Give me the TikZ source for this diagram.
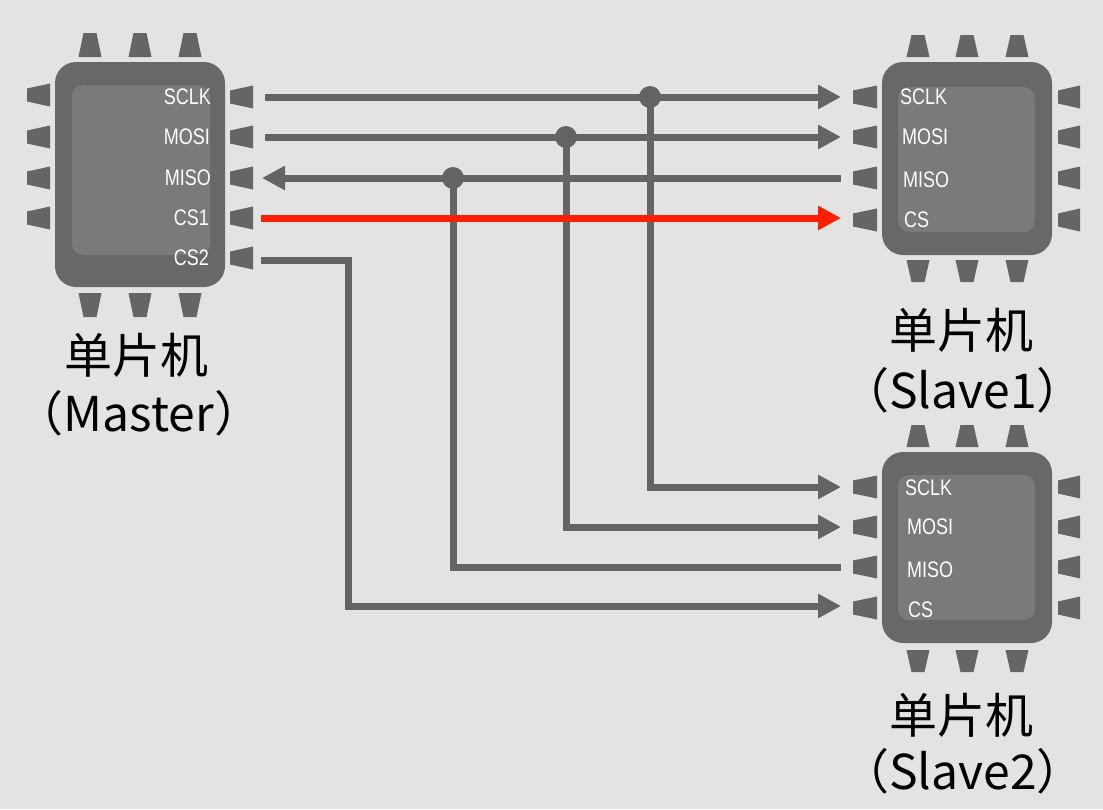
\documentclass[tikz,border=0pt]{standalone}
\usepackage{fontspec}
\usetikzlibrary{arrows.meta}
\newfontfamily\cjkfont{Noto Sans CJK SC}
\newfontfamily\pinfont[FakeStretch=0.8]{Liberation Sans}
\definecolor{bgcol}{HTML}{E3E3E3}
\definecolor{chipbody}{HTML}{686866}
\definecolor{chipinner}{HTML}{7A7A79}
\definecolor{pingray}{HTML}{656563}
\definecolor{wirecol}{HTML}{646462}
\definecolor{redwire}{HTML}{FF1E00}
% pins: narrow end first
\newcommand\mypinU[3]{\fill[pingray] ({#1-6.5},#2) -- ({#1+6.5},#2) -- ({#1+11.5},#3) -- ({#1-11.5},#3) -- cycle;}
\newcommand\mypinD[3]{\fill[pingray] ({#1-11.5},#2) -- ({#1+11.5},#2) -- ({#1+6.5},#3) -- ({#1-6.5},#3) -- cycle;}
\newcommand\mypinL[3]{\fill[pingray] (#2,{#1-6.5}) -- (#3,{#1-11.5}) -- (#3,{#1+11.5}) -- (#2,{#1+6.5}) -- cycle;}
\newcommand\mypinR[3]{\fill[pingray] (#2,{#1-11.5}) -- (#3,{#1-6.5}) -- (#3,{#1+6.5}) -- (#2,{#1+11.5}) -- cycle;}
\begin{document}
\begin{tikzpicture}[x=1pt,y=-1pt,
  wireline/.style={draw=wirecol,line width=7pt},
  redline/.style={draw=redwire,line width=7pt},
  tipend/.style={-{Triangle[length=23pt,width=23pt]}},
  tipstart/.style={{Triangle[length=23pt,width=23pt]}-},
  junction/.style={circle,fill=wirecol,minimum size=22pt,inner sep=0pt},
  pinlbl/.style={text=white,font=\pinfont\fontsize{22.5}{22.5}\selectfont,inner sep=0pt},
  biglbl/.style={text=black,font=\cjkfont\fontsize{48}{48}\selectfont,inner sep=0pt},
  bodyshape/.style={fill=chipbody,rounded corners=21pt},
  innershape/.style={fill=chipinner,rounded corners=11pt}
]
\fill[bgcol] (0,0) rectangle (1103,809);
\useasboundingbox (0,0) rectangle (1103,809);

% ---------- Master chip ----------
\fill[bodyshape] (55,62) rectangle (225,287);
\fill[innershape] (72,85) rectangle (210,255);
\foreach \px in {90,140,190} {\mypinU{\px}{33}{57} \mypinD{\px}{293}{317}}
\foreach \py in {95,137,178,218} {\mypinL{\py}{27}{50}}
\foreach \py in {97,137,178,218,258} {\mypinR{\py}{253}{230}}
\node[pinlbl,anchor=east] (mtsclk) at (211,97) {SCLK};
\node[pinlbl,anchor=east] (mtmosi) at (210,137) {MOSI};
\node[pinlbl,anchor=east] (mtmiso) at (211,178) {MISO};
\node[pinlbl,anchor=east] (mtcs1) at (209,218) {CS1};
\node[pinlbl,anchor=east] (mtcs2) at (209,258) {CS2};
\node[biglbl] (mname) at (136,355) {单片机};
\node[biglbl] (mrole) at (139,413) {（Master）};

% ---------- Slave1 chip ----------
\fill[bodyshape] (882,62) rectangle (1052,255);
\fill[innershape] (898,87) rectangle (1035,232);
\foreach \px in {918,967,1017} {\mypinU{\px}{35}{57} \mypinD{\px}{260}{282}}
\foreach \py in {97,137,178,220} {\mypinL{\py}{853}{877} \mypinR{\py}{1080}{1058}}
\node[pinlbl,anchor=west] (sasclk) at (900,97) {SCLK};
\node[pinlbl,anchor=west] (samosi) at (902,137) {MOSI};
\node[pinlbl,anchor=west] (samiso) at (903,180) {MISO};
\node[pinlbl,anchor=west] (sacs) at (904,220) {CS};
\node[biglbl] (saname) at (961,330) {单片机};
\node[biglbl] (sarole) at (963,390) {（Slave1）};

% ---------- Slave2 chip ----------
\fill[bodyshape] (882,452) rectangle (1052,643);
\fill[innershape] (898,475) rectangle (1035,620);
\foreach \px in {918,967,1017} {\mypinU{\px}{425}{447} \mypinD{\px}{650}{672}}
\foreach \py in {487,527,567,608} {\mypinL{\py}{853}{877} \mypinR{\py}{1080}{1058}}
\node[pinlbl,anchor=west] (sbsclk) at (905,488) {SCLK};
\node[pinlbl,anchor=west] (sbmosi) at (907,527) {MOSI};
\node[pinlbl,anchor=west] (sbmiso) at (907,570) {MISO};
\node[pinlbl,anchor=west] (sbcs) at (908,610) {CS};
\node[biglbl] (sbname) at (961,715) {单片机};
\node[biglbl] (sbrole) at (963,771) {（Slave2）};

% ---------- wire end points ----------
\coordinate (msclk) at (265,97);
\coordinate (mmosi) at (265,137);
\coordinate (mmiso) at (262,178);
\coordinate (mcs1) at (261,218);
\coordinate (mcs2) at (261,260);
\coordinate (asclk) at (841,97);
\coordinate (amosi) at (841,137);
\coordinate (amiso) at (841,178);
\coordinate (acs) at (841,218);
\coordinate (bsclk) at (841,487);
\coordinate (bmosi) at (841,527);
\coordinate (bmiso) at (841,567);
\coordinate (bcs) at (841,606);
\coordinate (jsclk) at (650,97);
\coordinate (jmosi) at (566,137);
\coordinate (jmiso) at (453,178);

% ---------- wires ----------
\draw[wireline,tipend] (msclk) -- (asclk);
\draw[wireline,tipend] (mmosi) -- (amosi);
\draw[wireline,tipstart] (mmiso) -- (amiso);
\draw[wireline,tipend] (jsclk) |- (bsclk);
\draw[wireline,tipend] (jmosi) |- (bmosi);
\draw[wireline] (jmiso) |- (bmiso);
\draw[wireline,tipend] (mcs2) -| (348,400) |- (bcs);
\draw[redline,tipend] (mcs1) -- (acs);
\node[junction] (dsclk) at (jsclk) {};
\node[junction] (dmosi) at (jmosi) {};
\node[junction] (dmiso) at (jmiso) {};
\end{tikzpicture}
\end{document}
